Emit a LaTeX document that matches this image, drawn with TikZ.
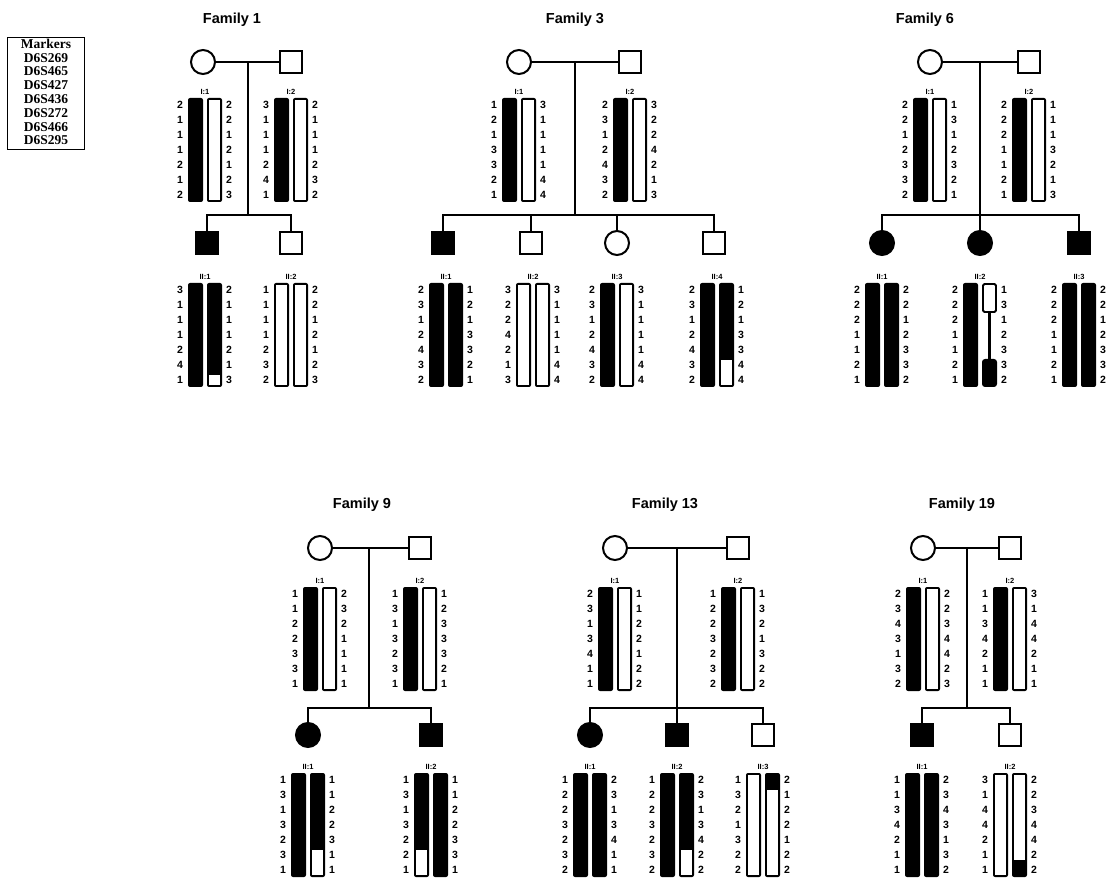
\documentclass[tikz,border=0pt]{standalone}
\usepackage{fontspec}
\setmainfont{Liberation Sans}
\newfontfamily\mkfont{Liberation Serif}
\tikzset{
  ped/.style={line width=2pt},
  pedsym/.style={draw, line width=2pt, fill=white, inner sep=0pt, outer sep=0pt},
  sq/.style={pedsym, rectangle, minimum size=22pt},
  ci/.style={pedsym, circle, minimum size=24pt},
  aff/.style={fill=black},
  num/.style={font=\bfseries\fontsize{10.5}{11}\selectfont, inner sep=0pt},
  lab/.style={font=\bfseries\fontsize{7.5}{8}\selectfont, inner sep=0pt},
  famtitle/.style={font=\bfseries\fontsize{14.5}{16}\selectfont, inner sep=0pt},
}
% haplotype: name, cx, ytop, label, left numbers, right numbers
\newcommand\hap[6]{%
  \node[lab] (#1-lab) at ({#2},{#3-6}) {#4};
  \fill[rounded corners=2pt] ({#2-17},{#3}) rectangle ({#2-2},{#3+104});
  \fill[rounded corners=2pt] ({#2+2},{#3}) rectangle ({#2+17},{#3+104});
  \foreach \v [count=\i] in {#5} \node[num] (#1-l\i) at ({#2-25},{#3+15*\i-8}) {\v};
  \foreach \v [count=\i] in {#6} \node[num] (#1-r\i) at ({#2+24},{#3+15*\i-8}) {\v};
}
% white segment on left / right bar: cx, ytop, from row, to row
\newcommand\whL[4]{\fill[white] ({#1-15},{#2+15*#3-13}) rectangle ({#1-4},{#2+15*#4-3});}
\newcommand\whR[4]{\fill[white] ({#1+4},{#2+15*#3-13}) rectangle ({#1+15},{#2+15*#4-3});}
\begin{document}
\begin{tikzpicture}[x=1pt,y=-1pt]
\useasboundingbox (0,0) rectangle (1109,882);

% Markers box
\node[draw, line width=1pt, minimum width=77pt, minimum height=112pt, inner sep=0pt] (mkbox) at (46,94) {};
\node[font=\mkfont\bfseries\fontsize{13.5}{13.8}\selectfont, align=center, inner sep=0pt] (mktext) at (46,92)
  {Markers\\D6S269\\D6S465\\D6S427\\D6S436\\D6S272\\D6S466\\D6S295};

% Titles
\node[famtitle] (t1) at (232,20) {Family 1};
\node[famtitle] (t3) at (575,20) {Family 3};
\node[famtitle] (t6) at (925,20) {Family 6};
\node[famtitle] (t9) at (362,505) {Family 9};
\node[famtitle] (t13) at (665,505) {Family 13};
\node[famtitle] (t19) at (962,505) {Family 19};

% ===== Family 1 =====
\node[ci] (f1m) at (203,62) {};
\node[sq] (f1f) at (291,62) {};
\draw[ped] (f1m) -- (f1f);
\coordinate (f1d) at (248,62);
\coordinate (f1s) at (248,215);
\draw[ped] (f1d) -- (f1s);
\node[sq,aff] (f1c1) at (207,243) {};
\node[sq] (f1c2) at (291,243) {};
\draw[ped] (f1c1.north) |- (f1s) -| (f1c2.north);
\hap{f1a}{205}{98}{I:1}{2,1,1,1,2,1,2}{2,2,1,2,1,2,3}\whR{205}{98}{1}{7}
\hap{f1b}{291}{98}{I:2}{3,1,1,1,2,4,1}{2,1,1,1,2,3,2}\whR{291}{98}{1}{7}
\hap{f1c}{205}{283}{II:1}{3,1,1,1,2,4,1}{2,1,1,1,2,1,3}\whR{205}{283}{7}{7}
\hap{f1e}{291}{283}{II:2}{1,1,1,1,2,3,2}{2,2,1,2,1,2,3}\whL{291}{283}{1}{7}\whR{291}{283}{1}{7}

% ===== Family 3 =====
\node[ci] (f3m) at (519,62) {};
\node[sq] (f3f) at (630,62) {};
\draw[ped] (f3m) -- (f3f);
\coordinate (f3d) at (575,62);
\coordinate (f3s) at (575,215);
\draw[ped] (f3d) -- (f3s);
\node[sq,aff] (f3c1) at (443,243) {};
\node[sq] (f3c2) at (531,243) {};
\node[ci] (f3c3) at (617,243) {};
\node[sq] (f3c4) at (714,243) {};
\draw[ped] (f3c1.north) |- (f3s) -| (f3c4.north);
\draw[ped] (f3c2.north) -- (f3c2.north |- f3s);
\draw[ped] (f3c3.north) -- (f3c3.north |- f3s);
\hap{f3a}{519}{98}{I:1}{1,2,1,3,3,2,1}{3,1,1,1,1,4,4}\whR{519}{98}{1}{7}
\hap{f3b}{630}{98}{I:2}{2,3,1,2,4,3,2}{3,2,2,4,2,1,3}\whR{630}{98}{1}{7}
\hap{f3c}{446}{283}{II:1}{2,3,1,2,4,3,2}{1,2,1,3,3,2,1}
\hap{f3e}{533}{283}{II:2}{3,2,2,4,2,1,3}{3,1,1,1,1,4,4}\whL{533}{283}{1}{7}\whR{533}{283}{1}{7}
\hap{f3g}{617}{283}{II:3}{2,3,1,2,4,3,2}{3,1,1,1,1,4,4}\whR{617}{283}{1}{7}
\hap{f3h}{717}{283}{II:4}{2,3,1,2,4,3,2}{1,2,1,3,3,4,4}\whR{717}{283}{6}{7}

% ===== Family 6 =====
\node[ci] (f6m) at (930,62) {};
\node[sq] (f6f) at (1029,62) {};
\draw[ped] (f6m) -- (f6f);
\coordinate (f6d) at (980,62);
\coordinate (f6s) at (980,215);
\draw[ped] (f6d) -- (f6s);
\node[ci,aff] (f6c1) at (882,243) {};
\node[ci,aff] (f6c2) at (980,243) {};
\node[sq,aff] (f6c3) at (1079,243) {};
\draw[ped] (f6c1.north) |- (f6s) -| (f6c3.north);
\draw[ped] (f6c2.north) -- (f6s);
\hap{f6a}{930}{98}{I:1}{2,2,1,2,3,3,2}{1,3,1,2,3,2,1}\whR{930}{98}{1}{7}
\hap{f6b}{1029}{98}{I:2}{2,2,2,1,1,2,1}{1,1,1,3,2,1,3}\whR{1029}{98}{1}{7}
\hap{f6c}{882}{283}{II:1}{2,2,2,1,1,2,1}{2,2,1,2,3,3,2}
\hap{f6e}{980}{283}{II:2}{2,2,2,1,1,2,1}{1,3,1,2,3,3,2}
\fill[white] (981,282) rectangle (998,389);
\draw[line width=1.8pt, fill=white, rounded corners=1.5pt] (983,284) rectangle (996,312);
\draw[line width=3pt] (989.5,312) -- (989.5,362);
\fill[rounded corners=3pt] (982,359) rectangle (997,387);
\hap{f6g}{1079}{283}{II:3}{2,2,2,1,1,2,1}{2,2,1,2,3,3,2}

% ===== Family 9 =====
\node[ci] (f9m) at (320,548) {};
\node[sq] (f9f) at (420,548) {};
\draw[ped] (f9m) -- (f9f);
\coordinate (f9d) at (369,548);
\coordinate (f9s) at (369,708);
\draw[ped] (f9d) -- (f9s);
\node[ci,aff] (f9c1) at (308,735) {};
\node[sq,aff] (f9c2) at (431,735) {};
\draw[ped] (f9c1.north) |- (f9s) -| (f9c2.north);
\hap{f9a}{320}{587}{I:1}{1,1,2,2,3,3,1}{2,3,2,1,1,1,1}\whR{320}{587}{1}{7}
\hap{f9b}{420}{587}{I:2}{1,3,1,3,2,3,1}{1,2,3,3,3,2,1}\whR{420}{587}{1}{7}
\hap{f9c}{308}{773}{II:1}{1,3,1,3,2,3,1}{1,1,2,2,3,1,1}\whR{308}{773}{6}{7}
\hap{f9e}{431}{773}{II:2}{1,3,1,3,2,2,1}{1,1,2,2,3,3,1}\whL{431}{773}{6}{7}

% ===== Family 13 =====
\node[ci] (f13m) at (615,548) {};
\node[sq] (f13f) at (738,548) {};
\draw[ped] (f13m) -- (f13f);
\coordinate (f13d) at (677,548);
\coordinate (f13s) at (677,708);
\draw[ped] (f13d) -- (f13s);
\node[ci,aff] (f13c1) at (590,735) {};
\node[sq,aff] (f13c2) at (677,735) {};
\node[sq] (f13c3) at (763,735) {};
\draw[ped] (f13c1.north) |- (f13s) -| (f13c3.north);
\draw[ped] (f13c2.north) -- (f13s);
\hap{f13a}{615}{587}{I:1}{2,3,1,3,4,1,1}{1,1,2,2,1,2,2}\whR{615}{587}{1}{7}
\hap{f13b}{738}{587}{I:2}{1,2,2,3,2,3,2}{1,3,2,1,3,2,2}\whR{738}{587}{1}{7}
\hap{f13c}{590}{773}{II:1}{1,2,2,3,2,3,2}{2,3,1,3,4,1,1}
\hap{f13e}{677}{773}{II:2}{1,2,2,3,2,3,2}{2,3,1,3,4,2,2}\whR{677}{773}{6}{7}
\hap{f13g}{763}{773}{II:3}{1,3,2,1,3,2,2}{2,1,2,2,1,2,2}\whL{763}{773}{1}{7}\whR{763}{773}{2}{7}

% ===== Family 19 =====
\node[ci] (f19m) at (923,548) {};
\node[sq] (f19f) at (1010,548) {};
\draw[ped] (f19m) -- (f19f);
\coordinate (f19d) at (967,548);
\coordinate (f19s) at (967,708);
\draw[ped] (f19d) -- (f19s);
\node[sq,aff] (f19c1) at (922,735) {};
\node[sq] (f19c2) at (1010,735) {};
\draw[ped] (f19c1.north) |- (f19s) -| (f19c2.north);
\hap{f19a}{923}{587}{I:1}{2,3,4,3,1,3,2}{2,2,3,4,4,2,3}\whR{923}{587}{1}{7}
\hap{f19b}{1010}{587}{I:2}{1,1,3,4,2,1,1}{3,1,4,4,2,1,1}\whR{1010}{587}{1}{7}
\hap{f19c}{922}{773}{II:1}{1,1,3,4,2,1,1}{2,3,4,3,1,3,2}
\hap{f19e}{1010}{773}{II:2}{3,1,4,4,2,1,1}{2,2,3,4,4,2,2}\whL{1010}{773}{1}{7}\whR{1010}{773}{1}{6}
\end{tikzpicture}
\end{document}
